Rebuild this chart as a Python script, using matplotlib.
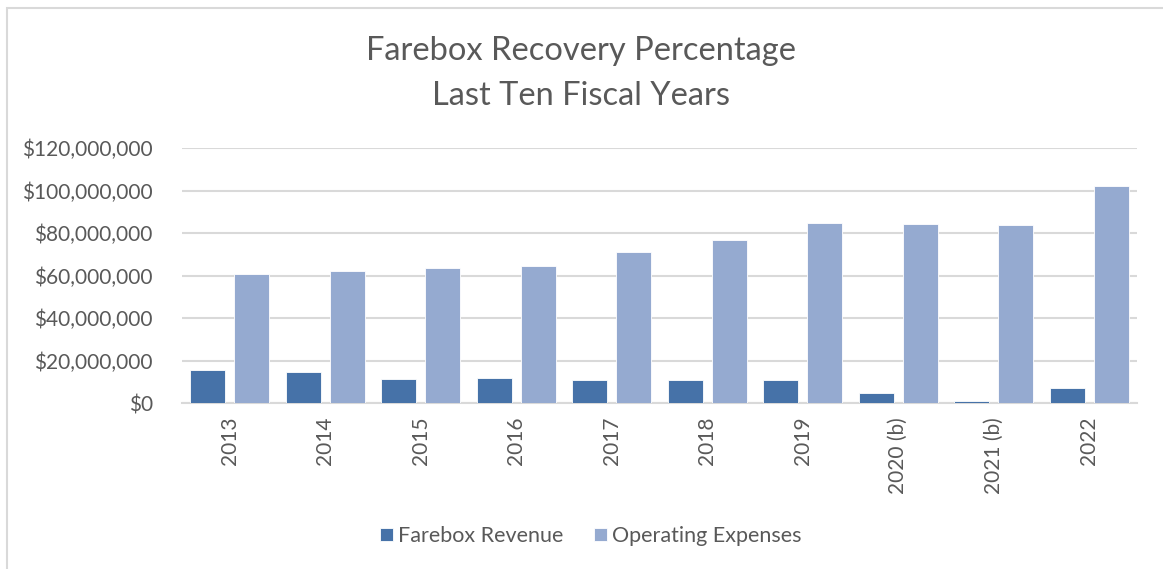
import numpy as np
import matplotlib.pyplot as plt
from matplotlib.patches import Rectangle
from matplotlib.ticker import FuncFormatter

plt.rcParams['font.family'] = ['Lato', 'DejaVu Sans']

years = ['2013', '2014', '2015', '2016', '2017', '2018', '2019',
         '2020 (b)', '2021 (b)', '2022']
farebox_revenue = [15.6, 14.8, 11.3, 11.9, 11.0, 11.0, 10.7, 4.7, 0.8, 7.1]  # millions
operating_expenses = [60.5, 62.1, 63.4, 64.6, 71.1, 76.6, 84.6, 84.3, 83.6, 101.9]

rev_color = '#4672A8'
exp_color = '#95AAD0'
text_color = '#595959'

fig = plt.figure(figsize=(11.63, 5.69), dpi=100)
# outer chart border (only top/left visible in the crop)
fig.patches.append(Rectangle((7 / 1163, -0.1), 1.2, 1.1 - 8 / 569, transform=fig.transFigure,
                             fill=False, edgecolor='#D9D9D9', linewidth=1.5))

ax = fig.add_axes([182 / 1163, 1 - 403 / 569, (1137 - 182) / 1163, (403 - 148) / 569])

x = np.arange(len(years))
rev = np.array(farebox_revenue) * 1e6
exp = np.array(operating_expenses) * 1e6
ax.bar(x - 0.23, rev, width=0.37, color=rev_color, edgecolor='white', linewidth=0.6,
       label='Farebox Revenue', zorder=3)
ax.bar(x + 0.23, exp, width=0.37, color=exp_color, edgecolor='white', linewidth=0.6,
       label='Operating Expenses', zorder=3)

ax.set_xlim(-0.5, len(years) - 0.5)
ax.set_ylim(0, 120e6)
ax.set_yticks(np.arange(0, 120e6 + 1, 20e6))
ax.yaxis.set_major_formatter(FuncFormatter(lambda v, p: '${:,.0f}'.format(v)))
ax.grid(axis='y', color='#D9D9D9', linewidth=1.5, zorder=0)
for s in ['top', 'right', 'left']:
    ax.spines[s].set_visible(False)
ax.spines['bottom'].set_color('#D9D9D9')
ax.spines['bottom'].set_linewidth(1.5)
ax.set_xticks(x)
ax.set_xticklabels(years, rotation=90)
ax.tick_params(axis='both', length=0, labelsize=15, colors=text_color)
ax.tick_params(axis='y', pad=21)
ax.tick_params(axis='x', pad=10)

fig.text(0.5, 1 - 51 / 569, 'Farebox Recovery Percentage', ha='center', va='center',
         fontsize=23.5, color=text_color)
fig.text(0.5, 1 - 96 / 569, 'Last Ten Fiscal Years', ha='center', va='center',
         fontsize=23.5, color=text_color)

fig.legend(loc='center', bbox_to_anchor=(591 / 1163, 1 - 536 / 569), ncol=2, frameon=False,
           fontsize=15.5, labelcolor=text_color, handlelength=0.6, handleheight=0.6,
           handletextpad=0.25, columnspacing=1.4)

fig.savefig('out.png', dpi=100)
